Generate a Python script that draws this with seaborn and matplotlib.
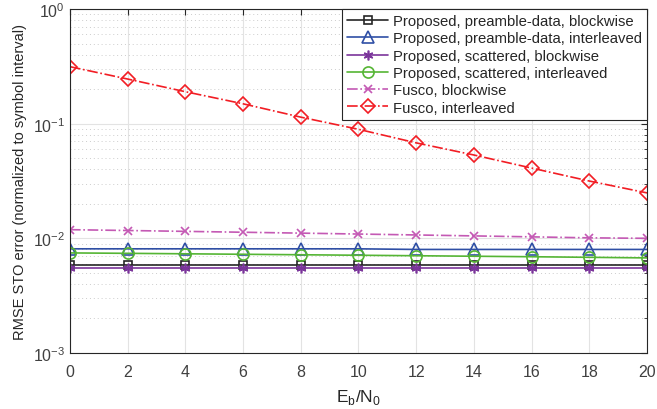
import numpy as np
import pandas as pd
import matplotlib
matplotlib.use("Agg")
import matplotlib.pyplot as plt
from matplotlib.ticker import LogLocator, NullFormatter
import seaborn as sns

# Eb/N0 points
ebn0 = [0, 2, 4, 6, 8, 10, 12, 14, 16, 18, 20]

# RMSE values
pd_block = [0.0059, 0.0059, 0.0059, 0.0059, 0.0059, 0.0059, 0.0059, 0.0059, 0.0059, 0.0059, 0.0059]
pd_inter = [0.0081, 0.0081, 0.0081, 0.0081, 0.0081, 0.0081, 0.0080, 0.0080, 0.0080, 0.0080, 0.0080]
sc_block = [0.00548, 0.00548, 0.00548, 0.00548, 0.00548, 0.00548, 0.00548, 0.00548, 0.00548, 0.00548, 0.00548]
sc_inter = [0.00746, 0.00740, 0.00733, 0.00726, 0.00719, 0.00712, 0.00705, 0.00698, 0.00691, 0.00683, 0.00675]
fu_block = [0.0119, 0.0117, 0.0115, 0.0113, 0.0111, 0.0109, 0.0107, 0.0105, 0.0103, 0.0101, 0.0100]
fu_inter = [0.314, 0.245, 0.190, 0.149, 0.114, 0.0893, 0.068, 0.0533, 0.041, 0.0316, 0.0249]

labels = ['Proposed, preamble-data, blockwise',
          'Proposed, preamble-data, interleaved',
          'Proposed, scattered, blockwise',
          'Proposed, scattered, interleaved',
          'Fusco, blockwise',
          'Fusco, interleaved']

sns.set_style("white")
plt.rcParams['font.family'] = ['Liberation Sans', 'DejaVu Sans']
plt.rcParams['mathtext.fontset'] = 'custom'
plt.rcParams['mathtext.rm'] = 'Liberation Sans'

fig = plt.figure(figsize=(6.57, 4.10), dpi=100)
ax = fig.add_axes([0.1065, 0.1366, 0.8783, 0.839])

series = [
    (pd_block, '#262626', 's', '-', 6),
    (pd_inter, '#2f4fa5', '^', '-', 8),
    (sc_block, '#7b359b', (6, 2, 0), '-', 7),
    (sc_inter, '#55b534', 'o', '-', 8),
    (fu_block, '#c459b4', 'x', '-.', 6),
    (fu_inter, '#f21d24', 'D', '-.', 7),
]

for (vals, col, mk, ls, ms), lab in zip(series, labels):
    df = pd.DataFrame({'x': ebn0, 'y': vals})
    sns.lineplot(data=df, x='x', y='y', ax=ax, color=col, marker=mk,
                 linestyle=ls, markersize=ms, markerfacecolor='none',
                 markeredgecolor=col, markeredgewidth=1.2, linewidth=1.2,
                 label=lab)

ax.set_yscale('log')
ax.set_xlim(0, 20)
ax.set_ylim(1e-3, 1)
ax.set_xticks(ebn0)
ax.yaxis.set_major_locator(LogLocator(base=10, numticks=10))
ax.yaxis.set_minor_locator(LogLocator(base=10, subs=np.arange(2, 10), numticks=10))
ax.yaxis.set_minor_formatter(NullFormatter())

ax.grid(True, which='major', color='#e3e3e3', linewidth=0.8, linestyle='-')
ax.grid(True, which='minor', axis='y', color='#cccccc', linewidth=0.7, linestyle=(0, (1, 3)))
ax.set_axisbelow(True)

ax.tick_params(which='both', direction='in', top=True, right=True, colors='#262626',
               labelcolor='#404040', labelsize=11.5)
ax.tick_params(axis='x', which='major', pad=8)
ax.tick_params(which='major', length=4)
ax.tick_params(which='minor', length=2)
for s in ax.spines.values():
    s.set_color('#262626')
    s.set_linewidth(0.8)

ax.set_xlabel(r'E$_\mathrm{b}$/N$_\mathrm{0}$', fontsize=12.5, color='#262626', labelpad=6)
ax.set_ylabel('RMSE STO error (normalized to symbol interval)', fontsize=10.5, color='#262626')

leg = ax.legend(loc='upper right', fontsize=10.7, frameon=True, fancybox=False,
                edgecolor='#262626', framealpha=1, borderaxespad=0.0,
                handlelength=2.8, handletextpad=0.3, labelspacing=0.22, borderpad=0.35)
leg.get_frame().set_linewidth(0.8)

fig.savefig('out.png', dpi=100)
